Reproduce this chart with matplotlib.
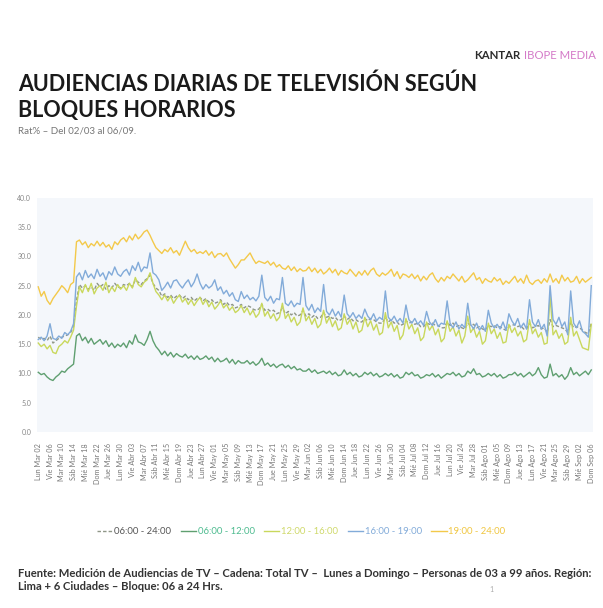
import matplotlib.pyplot as plt
import pandas as pd
import numpy as np

# Daily ratings (Rat%), Mon 02/03 .. Sun 06/09, one row per week (Lun..Dom)
dates = pd.date_range("2020-03-02", "2020-09-06", freq="D")

total_06_24 = [
    16.2, 15.8, 16.0, 15.6, 16.4, 15.2, 15.6,
    16.0, 16.2, 16.4, 16.6, 17.0, 18.0, 22.5,
    25.2, 24.6, 25.0, 24.4, 24.8, 24.2, 25.4,
    24.8, 25.2, 24.4, 25.0, 24.6, 25.4, 24.8,
    24.6, 25.2, 25.0, 25.4, 24.8, 26.0, 25.6,
    25.2, 25.8, 26.2, 26.8, 25.4, 24.6, 24.2,
    23.2, 23.6, 23.0, 23.4, 22.8, 23.2, 23.4,
    22.8, 23.2, 22.6, 23.0, 22.4, 22.8, 23.0,
    22.4, 22.8, 22.2, 22.6, 22.0, 22.2, 22.6,
    21.8, 22.2, 21.6, 21.8, 21.2, 21.4, 21.8,
    21.2, 21.6, 21.4, 21.0, 20.8, 21.0, 21.8,
    20.8, 21.0, 20.6, 20.8, 20.2, 20.4, 21.2,
    20.2, 20.6, 20.0, 20.4, 19.8, 20.0, 20.8,
    19.8, 20.2, 19.6, 20.0, 19.4, 19.6, 20.4,
    19.6, 19.8, 19.4, 19.6, 19.0, 19.2, 19.8,
    19.2, 19.6, 19.0, 19.2, 18.8, 18.8, 19.4,
    19.0, 19.4, 19.2, 18.8, 18.6, 18.6, 19.6,
    18.8, 19.2, 18.6, 18.8, 18.2, 18.4, 19.0,
    18.6, 18.8, 18.4, 18.6, 18.0, 18.0, 18.6,
    18.4, 18.6, 18.2, 18.2, 17.8, 17.8, 18.8,
    18.2, 18.6, 18.0, 18.2, 17.8, 17.6, 18.6,
    18.2, 18.4, 17.8, 18.0, 17.6, 17.4, 18.2,
    18.0, 18.2, 17.8, 18.0, 17.6, 17.4, 18.0,
    18.2, 18.4, 18.0, 18.2, 17.6, 17.6, 18.6,
    17.8, 18.0, 18.2, 17.6, 17.8, 17.0, 19.2,
    18.0, 18.2, 18.0, 17.8, 17.6, 17.0, 18.8,
    17.8, 18.0, 17.8, 17.4, 17.0, 16.8, 18.6,
]

block_06_12 = [
    10.2, 9.8, 10.0, 9.4, 9.0, 8.8, 9.4,
    9.8, 10.4, 10.2, 10.8, 11.2, 11.6, 16.4,
    16.8, 15.6, 16.2, 15.2, 16.0, 15.0, 15.4,
    15.8, 15.0, 15.6, 14.6, 15.2, 14.4, 15.0,
    14.6, 15.2, 14.4, 15.6, 15.0, 16.6, 15.4,
    15.2, 14.8, 15.8, 17.2, 15.6, 14.6, 14.0,
    13.2, 13.8, 13.0, 13.6, 12.8, 13.4, 13.0,
    12.8, 13.3, 12.6, 13.0, 12.4, 13.0, 12.4,
    12.6, 13.0, 12.4, 12.8, 12.0, 12.6, 12.0,
    12.2, 12.6, 11.8, 12.4, 11.6, 12.2, 11.8,
    11.8, 12.2, 11.6, 12.0, 11.4, 11.8, 12.6,
    11.4, 11.8, 11.2, 11.6, 11.0, 11.4, 11.6,
    11.0, 11.4, 10.8, 11.2, 10.6, 10.8, 10.4,
    10.4, 10.8, 10.2, 10.6, 10.0, 10.2, 10.4,
    10.0, 10.4, 9.8, 10.2, 9.6, 9.8, 10.6,
    9.8, 10.2, 9.6, 10.0, 9.4, 9.6, 10.2,
    9.8, 10.2, 9.6, 10.0, 9.4, 9.6, 10.0,
    9.6, 10.0, 9.4, 9.8, 9.2, 9.4, 10.2,
    9.8, 10.2, 9.6, 9.8, 9.2, 9.4, 9.8,
    9.6, 10.0, 9.4, 9.8, 9.2, 9.6, 10.0,
    9.8, 10.2, 9.6, 10.0, 9.4, 9.6, 10.4,
    10.0, 10.8, 9.8, 10.0, 9.4, 9.6, 10.0,
    9.6, 10.0, 9.4, 9.8, 9.2, 9.4, 9.8,
    9.8, 10.2, 9.6, 10.0, 9.4, 9.8, 10.2,
    9.6, 10.0, 11.0, 9.8, 9.2, 9.4, 11.6,
    9.6, 10.0, 9.4, 9.8, 9.0, 9.6, 11.0,
    9.8, 10.2, 9.6, 10.0, 10.4, 9.8, 10.6,
]

block_12_16 = [
    15.2, 14.6, 15.0, 14.2, 14.8, 13.6, 13.4,
    14.6, 15.0, 15.6, 15.2, 16.2, 17.4, 21.5,
    24.8, 23.8, 25.2, 24.0, 25.4, 23.6, 24.6,
    25.0, 24.2, 25.6, 23.8, 24.8, 24.0, 25.2,
    24.4, 25.0, 24.2, 25.4, 24.6, 26.4, 25.2,
    24.8, 25.6, 26.0, 27.2, 25.4, 24.0, 23.4,
    22.6, 23.4, 22.4, 23.2, 22.0, 22.8, 23.4,
    22.2, 22.8, 21.8, 22.6, 21.6, 22.4, 23.0,
    21.8, 22.6, 21.4, 22.2, 21.0, 21.6, 22.4,
    21.2, 21.8, 20.8, 21.4, 20.4, 20.8, 21.6,
    20.4, 21.2, 20.0, 20.8, 19.6, 20.2, 22.0,
    19.8, 20.6, 19.4, 20.2, 19.0, 19.6, 22.0,
    19.4, 20.2, 18.8, 19.6, 18.2, 18.8, 21.2,
    19.0, 19.8, 18.4, 19.4, 17.8, 18.4, 20.8,
    18.6, 19.6, 18.0, 19.0, 17.4, 17.8, 20.2,
    18.4, 19.2, 17.6, 18.8, 17.0, 17.4, 19.6,
    18.0, 19.0, 17.4, 18.4, 16.6, 17.0, 20.4,
    17.8, 18.8, 17.2, 18.2, 15.8, 16.6, 19.4,
    17.6, 18.4, 16.8, 17.8, 15.6, 16.2, 18.8,
    17.4, 18.2, 16.6, 17.6, 15.4, 16.0, 19.0,
    17.2, 18.0, 16.4, 17.4, 15.2, 16.4, 19.8,
    17.0, 17.8, 16.2, 17.2, 15.0, 15.6, 18.6,
    16.8, 17.6, 16.0, 17.0, 15.2, 15.4, 18.4,
    17.0, 17.8, 16.4, 17.2, 15.4, 15.8, 19.2,
    16.8, 17.6, 16.2, 17.0, 15.0, 15.2, 23.2,
    16.6, 17.4, 16.0, 16.8, 15.0, 15.4, 19.6,
    16.4, 17.2, 15.8, 14.4, 14.2, 14.0, 18.4,
]

block_16_19 = [
    15.8, 16.2, 15.6, 16.4, 18.5, 16.0, 15.8,
    16.4, 16.0, 17.0, 16.6, 17.2, 18.5, 26.5,
    27.2, 26.0, 27.6, 26.4, 27.0, 26.2, 27.8,
    26.6, 27.2, 26.0, 27.4, 26.8, 28.2, 27.0,
    26.6, 27.4, 27.8, 26.8, 28.4, 27.6, 29.0,
    27.4, 28.2, 28.0, 30.6, 27.2, 26.8, 26.0,
    24.2, 24.8, 25.6, 24.6, 25.8, 26.0, 25.2,
    24.6, 25.4, 26.0, 24.8, 25.6, 27.0, 25.4,
    24.4, 25.2, 24.6, 25.0, 26.0, 24.2, 24.8,
    23.6, 24.2, 23.2, 23.8, 22.6, 22.3, 24.0,
    22.8, 23.4, 22.6, 23.0, 22.4, 23.2, 26.8,
    23.0, 22.4, 23.2, 22.0, 22.8, 22.6, 26.4,
    22.0, 21.6, 22.4, 21.4, 22.0, 21.8, 26.4,
    21.6, 20.8, 21.8, 20.4, 21.2, 20.6, 25.2,
    20.6, 20.0, 21.0, 19.8, 20.6, 19.6, 23.4,
    20.2, 19.6, 20.4, 19.4, 20.0, 19.4, 21.0,
    19.8, 19.2, 20.2, 19.0, 19.6, 19.2, 24.1,
    19.6, 19.0, 19.8, 18.8, 19.4, 18.6, 21.7,
    19.2, 18.6, 19.4, 18.4, 19.0, 18.2, 20.6,
    18.8, 18.2, 19.2, 18.0, 18.6, 18.4, 22.4,
    18.6, 17.8, 18.8, 17.6, 18.4, 17.8, 22.0,
    18.4, 17.6, 18.6, 17.4, 18.2, 17.2, 20.8,
    18.6, 17.8, 18.4, 17.6, 18.8, 17.4, 20.2,
    19.0, 18.2, 19.4, 17.8, 18.6, 17.6, 22.6,
    18.8, 18.0, 19.2, 17.6, 18.4, 16.4, 25.0,
    19.2, 18.4, 19.6, 18.0, 18.8, 16.6, 24.1,
    18.6, 17.8, 19.0, 17.2, 16.8, 16.2, 25.0,
]

block_19_24 = [
    24.8, 23.2, 24.0, 22.5, 21.8, 22.8, 23.5,
    24.2, 25.0, 24.5, 23.8, 25.2, 25.6, 32.5,
    32.8, 32.0, 32.5, 31.5, 32.2, 31.8, 32.6,
    31.8, 32.4, 31.6, 32.0, 31.2, 32.5, 32.0,
    32.8, 33.2, 32.5, 33.5, 32.8, 33.8, 33.0,
    33.5, 34.2, 34.5, 33.6, 32.5, 31.5, 31.0,
    30.5, 31.2, 30.8, 31.5, 30.6, 31.0, 30.2,
    31.4, 32.6, 31.5, 30.8, 31.2, 30.5, 30.8,
    30.5, 31.0, 30.2, 30.8, 29.8, 30.4, 30.5,
    30.0, 30.6, 29.6, 28.8, 28.0, 28.6, 29.4,
    29.4, 30.0, 30.6, 29.6, 28.8, 29.2, 29.0,
    28.8, 29.2, 28.5, 29.0, 28.2, 28.6, 28.0,
    27.8, 28.4, 27.6, 28.2, 27.4, 27.9, 27.5,
    27.6, 28.2, 27.4, 28.0, 27.2, 27.8, 27.0,
    27.4, 28.0, 27.2, 27.8, 26.8, 27.6, 27.2,
    27.0, 27.8, 27.2, 26.6, 27.4, 26.8, 27.6,
    26.8, 27.6, 28.0, 27.0, 26.6, 27.2, 26.8,
    27.2, 27.8, 26.6, 27.4, 26.2, 27.0, 26.8,
    26.4, 27.0, 26.2, 26.8, 25.8, 26.6, 26.0,
    26.8, 27.2, 26.2, 25.6, 26.4, 25.8, 26.6,
    26.2, 27.0, 26.4, 25.8, 26.6, 25.6, 26.0,
    26.6, 27.2, 26.0, 26.4, 25.4, 26.2, 25.8,
    25.6, 26.4, 25.8, 26.2, 25.2, 25.8, 25.4,
    26.0, 26.6, 25.6, 26.2, 25.4, 26.8, 25.6,
    25.2, 25.8, 26.0, 25.4, 26.2, 25.6, 27.0,
    25.6, 26.2, 25.4, 26.8, 25.8, 26.4, 25.6,
    25.8, 26.6, 25.4, 26.2, 25.6, 26.0, 26.4,
]

series_labels = ["06:00 - 24:00", "06:00 - 12:00", "12:00 - 16:00", "16:00 - 19:00", "19:00 - 24:00"]
line_colors = ["#8f9788", "#5f9f70", "#c9d85c", "#82abd9", "#f3c94a"]
text_colors = ["#555555", "#4dbb8f", "#cfd96a", "#82abd9", "#f0c640"]

dias = ["Lun", "Mar", "Mié", "Jue", "Vie", "Sáb", "Dom"]
meses = {3: "Mar", 4: "Abr", 5: "May", 6: "Jun", 7: "Jul", 8: "Ago", 9: "Sep"}
date_labels = [f"{dias[d.weekday()]} {meses[d.month]} {d.day:02d}" for d in dates]

plt.rcParams['font.family'] = ['Lato', 'DejaVu Sans']

fig = plt.figure(figsize=(6.03, 6.08), dpi=100)
fig.patch.set_facecolor('white')

# header: "KANTAR" placed just left of "IBOPE MEDIA"
kt = fig.text(0.988, 0.908, "IBOPE MEDIA", ha='right', va='center', fontsize=8.2,
              color='#d47ac8')
fig.canvas.draw()
bb = kt.get_window_extent()
fig.text((bb.x0 - 3) / fig.bbox.width, 0.908, "KANTAR", ha='right', va='center',
         fontsize=8.2, fontweight='bold', color='#2b2b2b')

fig.text(0.03, 0.862, "AUDIENCIAS DIARIAS DE TELEVISIÓN SEGÚN", ha='left', va='center',
         fontsize=15.5, fontweight='bold', color='#1a1a1a')
fig.text(0.03, 0.818, "BLOQUES HORARIOS", ha='left', va='center',
         fontsize=15.5, fontweight='bold', color='#1a1a1a')
fig.text(0.03, 0.785, "Rat% – Del 02/03 al 06/09.", ha='left', va='center',
         fontsize=7, color='#777777')

# chart
ax = fig.add_axes([0.061, 0.2895, 0.922, 0.385])
ax.set_facecolor('#f4f7fb')
x = np.arange(len(dates))
all_series = [total_06_24, block_06_12, block_12_16, block_16_19, block_19_24]
for i, (vals, lab, col) in enumerate(zip(all_series, series_labels, line_colors)):
    ls = (0, (2.5, 1.5)) if i == 0 else '-'
    ax.plot(x, vals, color=col, linewidth=1.0, linestyle=ls, label=lab)

ax.set_ylim(0, 40)
ax.set_xlim(-0.5, len(dates) - 0.5)
ax.set_yticks(np.arange(0, 41, 5))
ax.set_yticklabels([f"{v:.1f}" for v in np.arange(0, 41, 5)], fontsize=5, color='#888888')
ax.set_xticks(x[::4])
ax.set_xticklabels(date_labels[::4], rotation=90, fontsize=5.2, color='#777777')
ax.tick_params(axis='x', length=0, pad=8)
ax.tick_params(axis='y', length=0, pad=4)
for s in ax.spines.values():
    s.set_visible(False)

leg = fig.legend(loc='center', bbox_to_anchor=(0.5, 0.125), ncol=5, frameon=False,
                 fontsize=6.8, handlelength=1.6, handletextpad=0.2, columnspacing=1.0)
for t, c in zip(leg.get_texts(), text_colors):
    t.set_color(c)

# footer
fig.text(0.03, 0.057, "Fuente: Medición de Audiencias de TV – Cadena: Total TV –  Lunes a Domingo – Personas de 03 a 99 años. Región:",
         ha='left', va='center', fontsize=8.1, fontweight='bold', color='#333333')
fig.text(0.03, 0.036, "Lima + 6 Ciudades – Bloque: 06 a 24 Hrs.",
         ha='left', va='center', fontsize=8.1, fontweight='bold', color='#333333')
fig.text(0.815, 0.030, "1", ha='center', va='center', fontsize=5, color='#aaaaaa')

plt.savefig("out.png", dpi=100)
